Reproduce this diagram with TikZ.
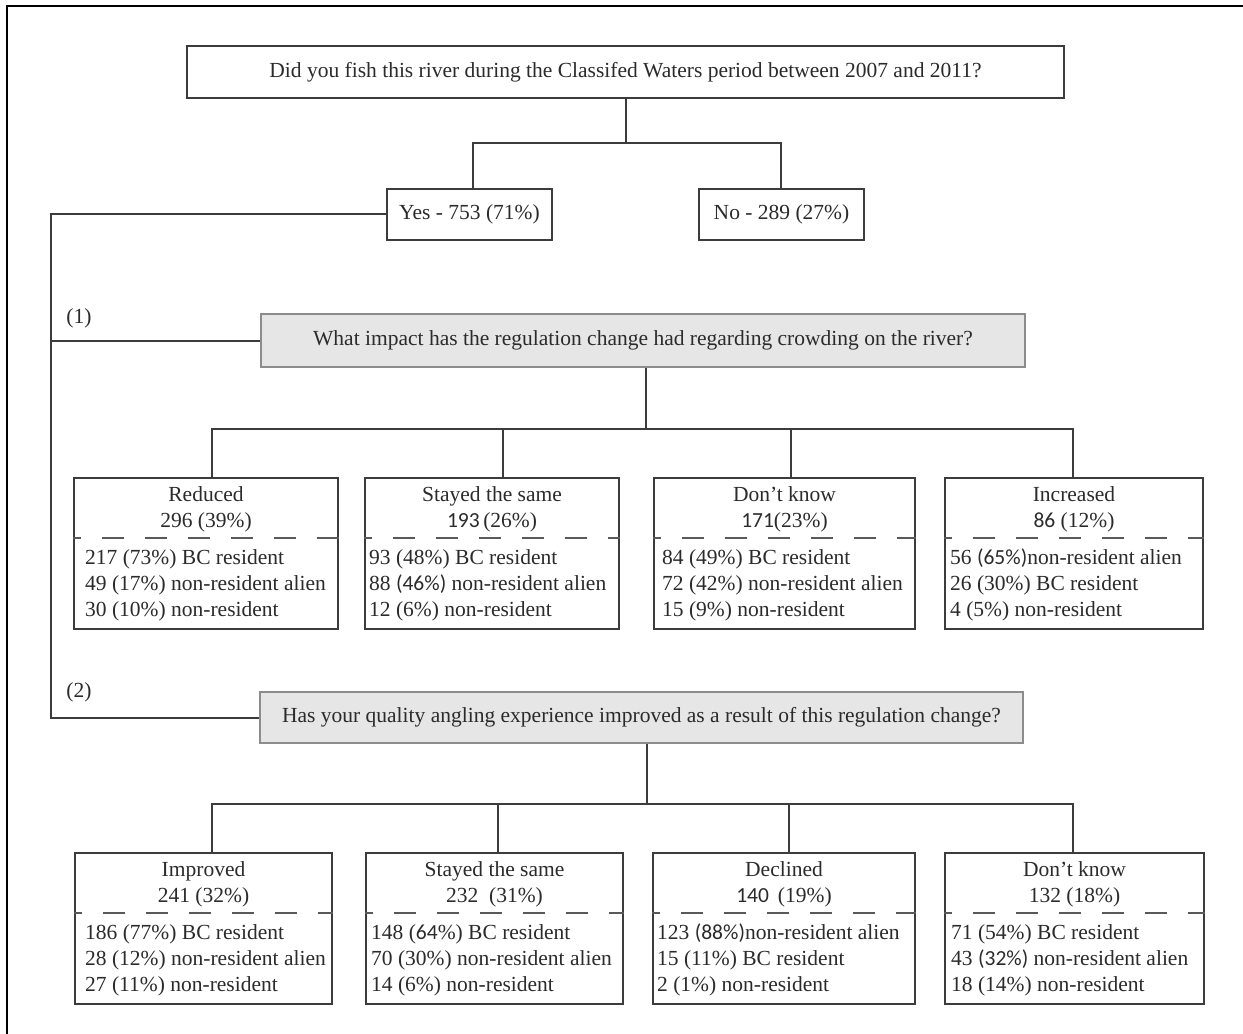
\documentclass[tikz,border=0pt]{standalone}
\usepackage{fontspec}
\setmainfont{Liberation Serif}
\newfontfamily\altf{Carlito}
\definecolor{txt}{HTML}{2B2B2B}
\definecolor{ln}{HTML}{3C3C3C}
\definecolor{qb}{HTML}{8C8C8C}
\definecolor{qfill}{HTML}{E6E6E6}
\def\rowtop{477}
% #1 name, #2 left, #3 right, #4 inset, #5 h1, #6 h2, #7-#9 body lines
\newcommand\abox[9]{%
  \node[ansbox, minimum width={#3-#2}, minimum height=151, anchor=north] (#1) at ({(#2+#3)/2},\rowtop) {};
  \node[anchor=base] (#1h1) at ([yshift=-24pt]#1.north) {#5};
  \node[anchor=base] (#1h2) at ([yshift=-50pt]#1.north) {#6};
  \draw[dashline] ([yshift=-61pt]#1.north west) -- ([yshift=-61pt]#1.north east);
  \node[anchor=base west] (#1b1) at ([xshift=#4pt,yshift=-87pt]#1.north west) {#7};
  \node[anchor=base west] (#1b2) at ([xshift=#4pt,yshift=-113pt]#1.north west) {#8};
  \node[anchor=base west] (#1b3) at ([xshift=#4pt,yshift=-139pt]#1.north west) {#9};
}
\begin{document}
\begin{tikzpicture}[x=1pt,y=-1pt,
  every node/.style={font=\fontsize{21.5}{26}\selectfont, text=txt, inner sep=0pt},
  line/.style={draw=ln, line width=2pt, line join=miter},
  plainbox/.style={draw=ln, line width=2pt, fill=white, rectangle},
  ansbox/.style={draw=ln, line width=2pt, fill=white, rectangle},
  qbox/.style={draw=qb, line width=2pt, fill=qfill, rectangle},
  dashline/.style={draw=ln!85, line width=2.6pt, dash pattern=on 22pt off 21pt, dash phase=14pt},
  lbl/.style={anchor=center}
]
\useasboundingbox (0,0) rectangle (1243,1034);
\fill[white] (0,0) rectangle (1243,1034);
% outer frame (top and left edges visible)
\draw[black, line width=2pt] (7,1040) -- (7,6) -- (1250,6);

% top question
\node[plainbox, minimum width=877, minimum height=52] (T) at (625.5,72)
  {Did you fish this river during the Classifed Waters period between 2007 and 2011?};
\node[plainbox, minimum width=165, minimum height=51] (Yes) at (469.5,214) {Yes - 753 (71\%)};
\node[plainbox, minimum width=165, minimum height=51] (No) at (781.5,214) {No - 289 (27\%)};
\coordinate (ybus) at (473,143);
\coordinate (nbus) at (781,143);
\draw[line] (T.south) -- (T.south |- ybus);
\draw[line] (Yes.north -| ybus) -- (ybus) -- (nbus) -- (No.north -| nbus);

% question boxes
\node[qbox, minimum width=764, minimum height=53] (Q1) at (643,340.5)
  {What impact has the regulation change had regarding crowding on the river?};
\node[qbox, minimum width=763, minimum height=51] (Q2) at (641.5,717.5)
  {Has your quality angling experience improved as a result of this regulation change?};

% left trunk
\coordinate (tk) at (51,214);
\draw[line] (Yes.west) -- (tk) -- (tk |- Q2.west) -- (Q2.west);
\draw[line] (tk |- Q1.west) -- (Q1.west);
\node[lbl] (l1) at (79,318) {(1)};
\node[lbl] (l2) at (79,692) {(2)};

% row 1
\def\rowtop{477}
\abox{A1}{74}{338}{12}{Reduced}{296 (39\%)}{217 (73\%) BC resident}{49 (17\%) non-resident alien}{30 (10\%) non-resident}
\abox{A2}{365}{619}{5}{Stayed the same}{{\altf 193}\,(26\%)}{93 (48\%) BC resident}{88 {\altf(46\%)} non-resident alien}{12 (6\%) non-resident}
\abox{A3}{654}{915}{9}{Don’t know}{{\altf 171}(23\%)}{84 (49\%) BC resident}{72 (42\%) non-resident alien}{15 (9\%) non-resident}
\abox{A4}{945}{1203}{6}{Increased}{{\altf 86} (12\%)}{56 {\altf(65\%)}non-resident alien}{26 (30\%) BC resident}{4 (5\%) non-resident}
\coordinate (a1c) at (212,429);
\coordinate (a2c) at (503,429);
\coordinate (a3c) at (791,429);
\coordinate (a4c) at (1073,429);
\coordinate (q1d) at (646,429);
\draw[line] (q1d |- Q1.south) -- (q1d);
\draw[line] (A1.north -| a1c) -- (a1c) -- (a4c) -- (A4.north -| a4c);
\draw[line] (a2c) -- (A2.north -| a2c);
\draw[line] (a3c) -- (A3.north -| a3c);

% row 2
\def\rowtop{852}
\abox{B1}{75}{332}{11}{Improved}{241 (32\%)}{186 (77\%) BC resident}{28 (12\%) non-resident alien}{27 (11\%) non-resident}
\abox{B2}{366}{623}{6}{Stayed the same}{232\ \ (31\%)}{148 ({\altf 64}\%) BC resident}{70 (30\%) non-resident alien}{14 (6\%) non-resident}
\abox{B3}{653}{915}{5}{Declined}{{\altf 140}\ \,(19\%)}{123 {\altf(88\%)}non-resident alien}{15 (11\%) BC resident}{2 (1\%) non-resident}
\abox{B4}{945}{1204}{7}{Don’t know}{132 (18\%)}{71 (54\%) BC resident}{43 {\altf(32\%)} non-resident alien}{18 (14\%) non-resident}
\coordinate (b1c) at (212,804);
\coordinate (b2c) at (498,804);
\coordinate (b3c) at (789,804);
\coordinate (b4c) at (1073,804);
\coordinate (q2d) at (647,804);
\draw[line] (q2d |- Q2.south) -- (q2d);
\draw[line] (B1.north -| b1c) -- (b1c) -- (b4c) -- (B4.north -| b4c);
\draw[line] (b2c) -- (B2.north -| b2c);
\draw[line] (b3c) -- (B3.north -| b3c);
\end{tikzpicture}
\end{document}
